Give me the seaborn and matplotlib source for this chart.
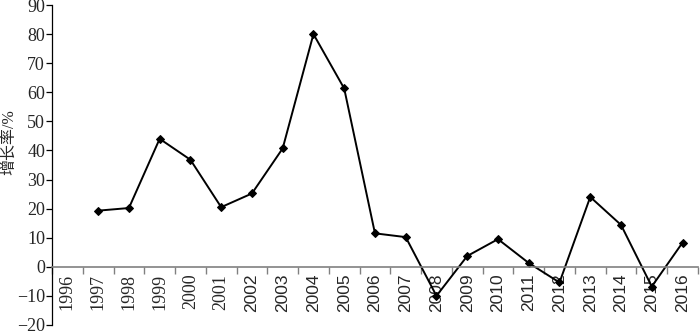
import numpy as np
import pandas as pd
import matplotlib.pyplot as plt
import matplotlib.ticker as mticker
import seaborn as sns

all_years = list(range(1996, 2017))
years = list(range(1997, 2017))
growth = [19.3, 20.2, 44.0, 36.8, 20.5, 25.2, 40.7, 80.0, 61.3, 11.5,
          10.2, -10.0, 3.7, 9.5, 1.3, -5.4, 24.0, 14.4, -6.8, 8.3]

df = pd.DataFrame({'year': years, 'growth': growth})

sns.set_style('ticks')
plt.rcParams['font.family'] = ['Liberation Serif', 'Noto Sans CJK SC']
plt.rcParams['axes.unicode_minus'] = True

fig = plt.figure(figsize=(7, 3.35), dpi=100)
ax = fig.add_axes([0.0743, 0.03, 0.9227, 0.955])

sns.lineplot(data=df, x='year', y='growth', ax=ax, color='black',
             linewidth=1.4, marker='D', markersize=4, markeredgecolor='black')

ax.set_xlim(1995.5, 2016.5)
ax.set_ylim(-20, 90)
ax.yaxis.set_major_locator(mticker.MultipleLocator(10))
ax.yaxis.set_major_formatter(mticker.FuncFormatter(lambda v, p: f'{int(v)}'.replace('-', '\u2212')))
ax.tick_params(axis='y', labelsize=13, length=4, width=0.9, color='black', pad=1)

ax.set_xticks(all_years)
ax.set_xticklabels([str(y) for y in all_years])
ax.set_xticks([y + 0.5 for y in [1995] + all_years], minor=True)
ax.tick_params(axis='x', which='major', length=0, labelsize=13, pad=5, labelrotation=90)
ax.tick_params(axis='x', which='minor', length=5, width=1, color='#808080')

ax.spines['bottom'].set_position(('data', 0))
ax.spines['bottom'].set_color('#808080')
ax.spines['bottom'].set_linewidth(1.2)
ax.spines['left'].set_color('black')
ax.spines['left'].set_linewidth(0.9)
ax.spines['top'].set_visible(False)
ax.spines['right'].set_visible(False)

ax.set_xlabel('')
ax.set_ylabel('增长率/%', fontsize=11.5, labelpad=2)
ax.yaxis.set_label_coords(-0.054, 0.57)

fig.canvas.draw()
for tick, y in zip(ax.xaxis.get_major_ticks(), all_years):
    tick.label1.set_va('top')
    if y >= 2002:
        tick.label1.set_fontfamily(['Liberation Sans', 'DejaVu Sans'])
        tick.label1.set_fontsize(12.5)

fig.savefig('out.png', dpi=100)
